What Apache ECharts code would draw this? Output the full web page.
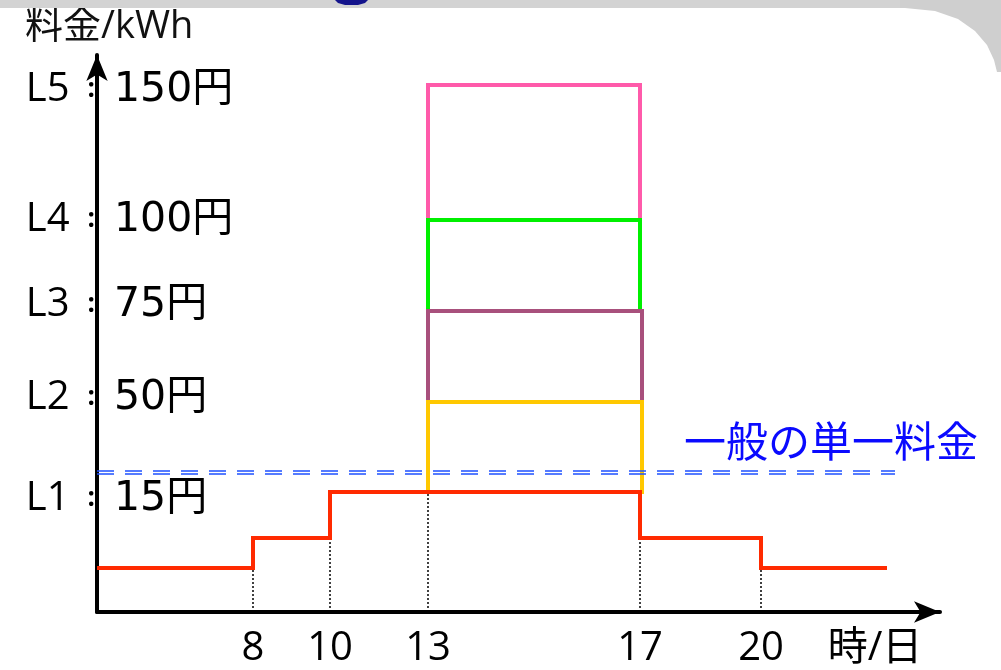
<!DOCTYPE html>
<html>
<head>
<meta charset="utf-8">
<script src="https://cdn.jsdelivr.net/npm/echarts@6/dist/echarts.min.js"></script>
<style>
html,body{margin:0;padding:0;background:#fff;}
#chart{width:1001px;height:670px;}
</style>
</head>
<body>
<div id="chart"></div>
<script>
// ---- data (schematic positions) ----
const hourLabels = ['8', '10', '13', '17', '20'];
const hourPos = [156, 233, 331, 543, 664];
const unitLabel = '時/日';
const unitLabelPos = 778;
const levelNames = ['L1', 'L2', 'L3', 'L4', 'L5'];
const levelPrices = [15, 50, 75, 100, 150];
const levelHeights = [120, 210, 301, 392, 527];
const levelLabelPos = [113, 214, 307, 392, 522];
const redStepX = [0, 156, 233, 543, 664, 790];
const redStepY = [44, 74, 120, 74, 44, 44];
const dottedX = [156, 233, 331, 543, 664];
const dottedTop = [44, 74, 120, 120, 44];
const flatRateLines = [141, 138];
const flatRateEnd = 798;
const flatRateLabel = '一般の単一料金';
const peakStart = 331;
const peakEnds = [545, 545, 543, 543]; // yellow, purple, green, pink
const rectColors = ['#ffc800', '#a8507c', '#00f000', '#ff5aaa'];

const FONT = '"Open Sans", "Noto Sans CJK JP", sans-serif';
const FONT_WIDE = '"DejaVu Sans", "Noto Sans CJK JP", sans-serif';

const chart = echarts.init(document.getElementById('chart'), null, {renderer: 'canvas'});

const series = [];
// rectangles: pink first (bottom of z), then green, purple, yellow
for (let i = 3; i >= 0; i--) {
  const yb = levelHeights[i], yt = levelHeights[i + 1];
  const x1 = peakEnds[i];
  series.push({
    type: 'line', symbol: 'none', silent: true,
    data: [[peakStart, yb], [peakStart, yt], [x1, yt], [x1, yb], [peakStart, yb]],
    lineStyle: {color: rectColors[i], width: 4, join: 'miter', cap: 'square'}
  });
}
// dotted guides
dottedX.forEach((x, i) => {
  series.push({
    type: 'line', symbol: 'none', silent: true,
    data: [[x, 0], [x, dottedTop[i]]],
    lineStyle: {color: '#000', width: 1.5, type: [2, 2]}
  });
});
// flat rate double dashed line
flatRateLines.forEach(y => {
  series.push({
    type: 'line', symbol: 'none', silent: true,
    data: [[0, y], [flatRateEnd, y]],
    lineStyle: {color: '#1e50ff', width: 1.6, type: [17, 11]}
  });
});
// red tariff step line
series.push({
  type: 'line', symbol: 'none', silent: true, step: 'end',
  data: redStepX.map((x, i) => [x, redStepY[i]]),
  lineStyle: {color: '#ff2a00', width: 4, join: 'miter'}
});

const xLabelValues = hourPos.concat([unitLabelPos]);
const xLabelTexts = hourLabels.concat([unitLabel]);

chart.setOption({
  animation: false,
  backgroundColor: '#fff',
  title: {
    text: '料金/kWh', left: 20, top: 3,
    textStyle: {fontSize: 38, fontWeight: 'normal', color: '#111', fontFamily: FONT}
  },
  grid: {left: 97, right: 61, top: 55, bottom: 58, containLabel: false},
  xAxis: {
    type: 'value', min: 0, max: 843,
    splitLine: {show: false}, axisTick: {show: false},
    axisLine: {show: true, symbol: ['none', 'arrow'], symbolSize: [16, 26],
      lineStyle: {color: '#000', width: 4}},
    axisLabel: {
      customValues: xLabelValues, margin: 17,
      fontSize: 40, color: '#000', fontFamily: FONT,
      formatter: v => { const i = xLabelValues.indexOf(v); return i >= 0 ? xLabelTexts[i] : ''; }
    }
  },
  yAxis: [{
    type: 'value', min: 0, max: 557, position: 'left',
    splitLine: {show: false}, axisTick: {show: false},
    axisLine: {show: true, symbol: ['none', 'arrow'], symbolSize: [16, 26],
      lineStyle: {color: '#000', width: 4}},
    axisLabel: {
      customValues: levelLabelPos, margin: 2,
      formatter: v => { const i = levelLabelPos.indexOf(v); return i >= 0 ? '{n|' + levelNames[i] + '}{c|:}' : ''; },
      rich: {
        n: {fontSize: 40, color: '#000', fontFamily: FONT},
        c: {fontSize: 26, color: '#000', fontFamily: FONT, padding: [0, 0, 0, 18], fontWeight: 'bold'}
      }
    }
  }, {
    type: 'value', min: 0, max: 557, position: 'left', offset: 0,
    splitLine: {show: false}, axisTick: {show: false}, axisLine: {show: false},
    axisLabel: {
      inside: true, customValues: levelLabelPos, margin: 17,
      fontSize: 41, color: '#000', fontFamily: FONT_WIDE,
      formatter: v => { const i = levelLabelPos.indexOf(v); return i >= 0 ? levelPrices[i] + '円' : ''; }
    }
  }],
  series: series,
  graphic: [
    {type: 'rect', shape: {x: 0, y: 0, width: 1001, height: 8}, style: {fill: '#d3d3d3'}, z: 100},
    {type: 'polygon', z: 100, shape: {points: [[900, 0], [1001, 0], [1001, 72], [997, 72], [994, 60], [987, 45], [975, 31], [958, 19], [935, 11], [905, 8], [900, 8]]}, style: {fill: '#cfcfcf'}},
    {type: 'polygon', z: 101, shape: {points: [[335, 0], [338, 3], [345, 5], [358, 5], [365, 3], [368, 0]]}, style: {fill: '#14148c'}},
    {type: 'text', left: 684, top: 424, z: 100,
      style: {text: flatRateLabel, fontSize: 42, fill: '#0a0aff', fontFamily: FONT}}
  ]
});
</script>
</body>
</html>
